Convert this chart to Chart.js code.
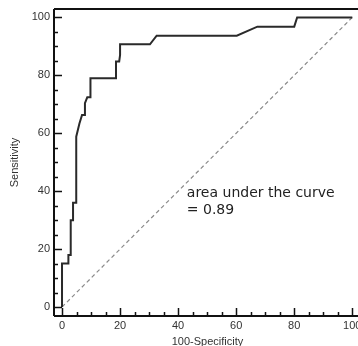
<!DOCTYPE html>
<html>
<head>
<meta charset="utf-8">
<script src="https://cdn.jsdelivr.net/npm/chart.js@4/dist/chart.umd.min.js"></script>
<style>
html,body{margin:0;padding:0;background:#fff;overflow:hidden;}
#wrap{position:relative;width:361px;height:346px;}
</style>
</head>
<body>
<div id="wrap"><canvas id="c"></canvas></div>
<script>
// ROC curve vertices (100-Specificity, Sensitivity)
const rocX = [0,0,2.2,2.2,3,3,3.8,3.8,4.9,4.9,6,6.9,7.9,7.9,8.7,9.8,9.8,18.6,18.6,19.7,20,20,30.3,32.6,60.2,67.3,80,81,100];
const rocY = [0,15,15,18,18,30,30,36,36,58.8,63.4,66.3,66.3,70.4,72.4,72.4,79,79,84.8,84.8,87,90.7,90.7,93.7,93.7,96.8,96.8,100,100];
// reference (chance) diagonal
const diagX = [0,100];
const diagY = [0,100];
const tickValues = [0,20,40,60,80,100];
const minorStep = 5;
const xTitle = '100-Specificity';
const yTitle = 'Sensitivity';
const annotationLines = ['area under the curve','= 0.89'];
const annotationX = 43;
const annotationY = [39.4, 33.3];

const rocData = rocX.map((x,i)=>({x:x,y:rocY[i]}));
const diagData = diagX.map((x,i)=>({x:x,y:diagY[i]}));

const framePlugin = {
  id:'frame',
  afterDraw(chart){
    const ctx = chart.ctx, a = chart.chartArea;
    const xs = chart.scales.x, ys = chart.scales.y;
    ctx.save();
    ctx.strokeStyle = '#111';
    ctx.lineWidth = 2;
    ctx.beginPath();
    ctx.moveTo(a.left, a.top); ctx.lineTo(a.right, a.top);
    ctx.moveTo(a.left, a.top); ctx.lineTo(a.left, a.bottom);
    ctx.moveTo(a.left, a.bottom); ctx.lineTo(a.right, a.bottom);
    ctx.moveTo(a.right, a.top); ctx.lineTo(a.right, a.bottom);
    ctx.stroke();
    // inward ticks
    ctx.lineWidth = 1.5;
    ctx.beginPath();
    for (let v = 0; v <= 100; v += minorStep) {
      const major = tickValues.includes(v);
      const len = major ? 8 : 4;
      const px = Math.round(xs.getPixelForValue(v)) + 0.5;
      ctx.moveTo(px, a.bottom); ctx.lineTo(px, a.bottom - len);
      const py = Math.round(ys.getPixelForValue(v)) + 0.5;
      ctx.moveTo(a.left, py); ctx.lineTo(a.left + len, py);
    }
    ctx.stroke();
    // annotation
    ctx.fillStyle = '#222';
    ctx.font = '14px "DejaVu Sans"';
    ctx.textAlign = 'left';
    ctx.textBaseline = 'middle';
    annotationLines.forEach((t,i)=>{
      ctx.fillText(t, xs.getPixelForValue(annotationX), ys.getPixelForValue(annotationY[i]));
    });
    ctx.restore();
  }
};

new Chart(document.getElementById('c'), {
  type:'scatter',
  data:{datasets:[
    {data:rocData, showLine:true, borderColor:'#2a2a2a', borderWidth:2, pointRadius:0, fill:false, tension:0},
    {data:diagData, showLine:true, borderColor:'#8a8a8a', borderWidth:1.2, borderDash:[4,3], pointRadius:0, fill:false}
  ]},
  options:{
    responsive:true, maintainAspectRatio:false, animation:false,
    layout:{padding:{top:9,left:0,right:0,bottom:0}},
    plugins:{legend:{display:false}, tooltip:{enabled:false}},
    scales:{
      x:{type:'linear', min:-2.76, max:103,
        grid:{display:false, drawTicks:false}, border:{display:false},
        afterBuildTicks(s){ s.ticks = tickValues.map(v=>({value:v})); },
        afterFit(s){ s.height = 30; s.paddingLeft = 0; s.paddingRight = 0; },
        ticks:{padding:3, color:'#333', font:{family:'"Liberation Sans", Arial', size:11}, maxRotation:0},
        title:{display:true, text:xTitle, color:'#333', font:{family:'"Liberation Sans", Arial', size:11, lineHeight:0.8}, padding:0}
      },
      y:{type:'linear', min:-3.1, max:102.9,
        grid:{display:false, drawTicks:false}, border:{display:false},
        afterBuildTicks(s){ s.ticks = tickValues.map(v=>({value:v})); },
        afterFit(s){ s.width = 54; s.paddingTop = 0; s.paddingBottom = 0; },
        ticks:{padding:4, color:'#333', font:{family:'"Liberation Sans", Arial', size:11}},
        title:{display:true, text:yTitle, color:'#333', font:{family:'"Liberation Sans", Arial', size:11}, padding:{top:8,bottom:0}}
      }
    }
  },
  plugins:[framePlugin]
});
</script>
</body>
</html>
